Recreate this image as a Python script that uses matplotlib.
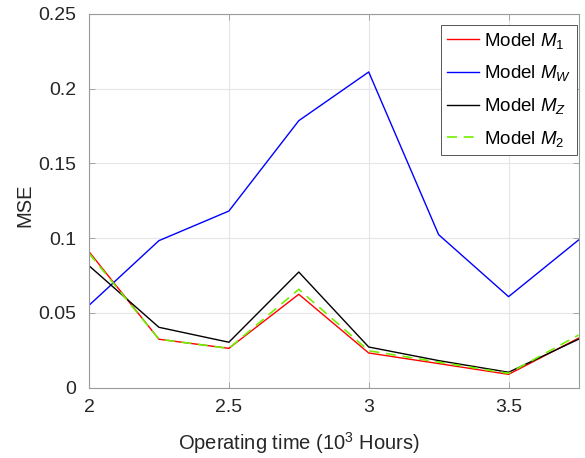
import matplotlib
matplotlib.use("Agg")
import matplotlib.pyplot as plt

plt.rcParams['font.family'] = ['Liberation Sans', 'DejaVu Sans']
plt.rcParams['mathtext.fontset'] = 'custom'
plt.rcParams['mathtext.rm'] = 'Liberation Sans'
plt.rcParams['mathtext.it'] = 'Liberation Sans:italic'

x = [2.0, 2.25, 2.5, 2.75, 3.0, 3.25, 3.5, 3.75]
m1 = [0.0909, 0.0323, 0.0262, 0.0624, 0.0231, 0.0160, 0.0088, 0.0330]
mw = [0.0550, 0.0983, 0.1181, 0.1786, 0.2112, 0.1023, 0.0608, 0.0987]
mz = [0.0815, 0.0403, 0.0303, 0.0773, 0.0271, 0.0180, 0.0102, 0.0323]
m2 = [0.0898, 0.0323, 0.0262, 0.0657, 0.0246, 0.0170, 0.0095, 0.0351]

xticks = [2, 2.5, 3, 3.5]
xticklabels = ['2', '2.5', '3', '3.5']
yticks = [0, 0.05, 0.1, 0.15, 0.2, 0.25]
yticklabels = ['0', '0.05', '0.1', '0.15', '0.2', '0.25']

W, H = 585, 458
fig = plt.figure(figsize=(W / 100, H / 100), dpi=100)
ax = fig.add_axes([89 / W, 1 - 387.5 / H, (578.5 - 89) / W, (387.5 - 14) / H])

lw = 1.0
ax.plot(x, m1, color='#ff0000', lw=lw, label=r'Model $M_{\mathit{1}}$')
ax.plot(x, mw, color='#0000ff', lw=lw, label=r'Model $M_{W}$')
ax.plot(x, mz, color='#000000', lw=lw, label=r'Model $M_{Z}$')
ax.plot(x, m2, color='#70f000', lw=1.2, ls=(0, (6, 4)), label=r'Model $M_{\mathit{2}}$')

ax.set_xlim(2, 3.75)
ax.set_ylim(0, 0.25)
ax.set_xticks(xticks)
ax.set_xticklabels(xticklabels)
ax.set_yticks(yticks)
ax.set_yticklabels(yticklabels)
ax.grid(True, color='#e6e6e6', lw=0.8)
ax.set_axisbelow(True)
for s in ax.spines.values():
    s.set_color('#9a9a9a')
    s.set_linewidth(0.8)
ax.tick_params(direction='in', length=4, width=0.6, color='#9a9a9a',
               labelcolor='#262626', labelsize=14, top=True, right=True, pad=8)
ax.tick_params(axis='y', pad=9)

fig.text(299 / W, 1 - 443 / H, 'Operating time (10$^3$ Hours)', fontsize=14.5,
         color='#262626', ha='center', va='center')
fig.text(25 / W, 1 - 205 / H, 'MSE', fontsize=14.5, color='#262626',
         ha='center', va='center', rotation=90)

leg = ax.legend(loc='upper right', bbox_to_anchor=(577 / W, 1 - 25 / H),
                bbox_transform=fig.transFigure, borderaxespad=0,
                fontsize=13.5, frameon=True, fancybox=False,
                edgecolor='#555555', framealpha=1,
                handlelength=1.7, handletextpad=0.27, labelspacing=0.68,
                borderpad=0.3)
leg.get_frame().set_linewidth(0.7)

fig.savefig('out.png', dpi=100)
